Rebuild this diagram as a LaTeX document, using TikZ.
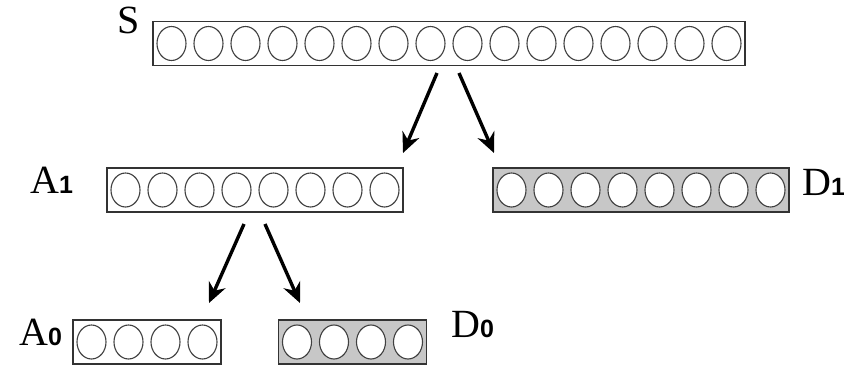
\documentclass[tikz,border=0pt]{standalone}
\usepackage{fontspec}
\setmainfont{Liberation Serif}
\newfontfamily\digitfont{Liberation Sans}
\usetikzlibrary{shapes.geometric,arrows.meta}
\tikzset{
  regbox/.style={draw=black!80, line width=1.6pt, inner sep=0pt, minimum height=44pt},
  lowbox/.style={regbox, fill=white},
  highbox/.style={regbox, fill=black!22},
  cell/.style={ellipse, draw=black!75, line width=1.1pt, fill=white, inner sep=0pt, minimum width=29pt, minimum height=34pt},
  lab/.style={anchor=base west, inner sep=0pt, font=\fontsize{40}{40}\selectfont},
  arr/.style={line width=3.4pt, -{Stealth[length=20pt, width=18pt]}, black}
}
\newcommand{\sub}[1]{{\digitfont\bfseries\fontsize{25}{25}\selectfont #1}}
\begin{document}
\begin{tikzpicture}[x=1pt,y=-1pt]
\useasboundingbox (0,0) rectangle (844,365);
% boxes
\node[lowbox, minimum width=592pt] (S) at (449,43.5) {};
\node[lowbox, minimum width=296pt] (A1) at (255,190) {};
\node[highbox, minimum width=296pt] (D1) at (641,190) {};
\node[lowbox, minimum width=148pt] (A0) at (147,342) {};
\node[highbox, minimum width=148pt] (D0) at (352.5,342) {};
% cells
\foreach \i in {0,...,15} \node[cell] (S-\i) at (171.5+37*\i,43.5) {};
\foreach \i in {0,...,7} \node[cell] (A1-\i) at (125.5+37*\i,190) {};
\foreach \i in {0,...,7} \node[cell] (D1-\i) at (511.5+37*\i,190) {};
\foreach \i in {0,...,3} \node[cell] (A0-\i) at (91.5+37*\i,342) {};
\foreach \i in {0,...,3} \node[cell] (D0-\i) at (297+37*\i,342) {};
% labels
\node[lab] (lS) at (117,33) {S};
\node[lab] (lA1) at (30,193) {A\sub{1}};
\node[lab] (lD1) at (802,195) {D\sub{1}};
\node[lab] (lA0) at (19,345) {A\sub{0}};
\node[lab] (lD0) at (451,337) {D\sub{0}};
% arrows
\coordinate (s1) at (437,73);
\coordinate (t1) at (403,153);
\coordinate (s2) at (459,73);
\coordinate (t2) at (494,153);
\coordinate (s3) at (244,224);
\coordinate (t3) at (209,303);
\coordinate (s4) at (265,224);
\coordinate (t4) at (300,303);
\draw[arr] (s1) -- (t1);
\draw[arr] (s2) -- (t2);
\draw[arr] (s3) -- (t3);
\draw[arr] (s4) -- (t4);
\end{tikzpicture}
\end{document}
